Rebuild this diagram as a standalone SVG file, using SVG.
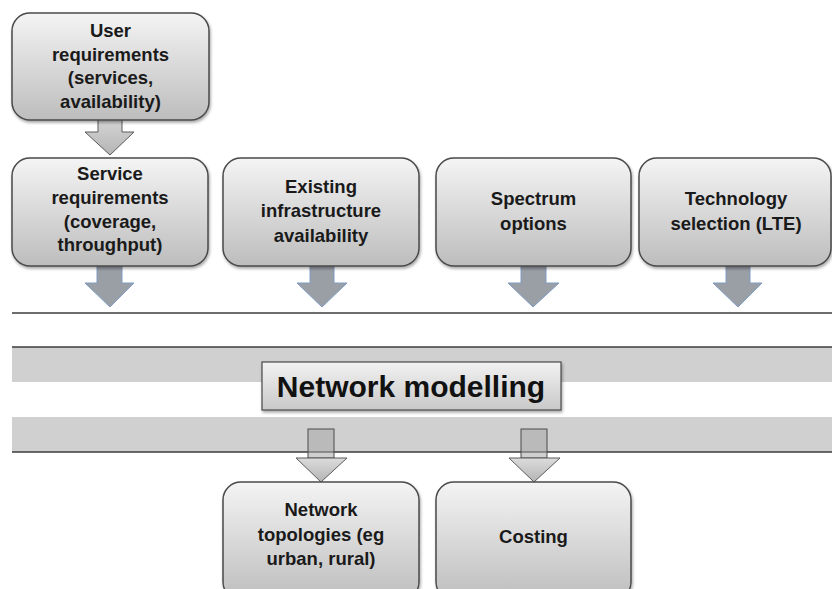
<svg xmlns="http://www.w3.org/2000/svg" width="832" height="589" viewBox="0 0 832 589">
<defs>
  <linearGradient id="boxGrad" x1="0" y1="0" x2="0" y2="1">
    <stop offset="0" stop-color="#f4f4f4"/>
    <stop offset="1" stop-color="#bdbdbd"/>
  </linearGradient>
  <linearGradient id="nmGrad" x1="0" y1="0" x2="0" y2="1">
    <stop offset="0" stop-color="#f2f2f2"/>
    <stop offset="1" stop-color="#c9c9c9"/>
  </linearGradient>
  <linearGradient id="lightArrow" x1="0" y1="0" x2="0" y2="1">
    <stop offset="0" stop-color="#dcdcdc"/>
    <stop offset="1" stop-color="#b4b4b4"/>
  </linearGradient>
  <filter id="shadow" x="-10%" y="-10%" width="120%" height="125%">
    <feGaussianBlur in="SourceAlpha" stdDeviation="1.5"/>
    <feOffset dx="1" dy="2" result="b"/>
    <feComponentTransfer><feFuncA type="linear" slope="0.35"/></feComponentTransfer>
    <feMerge><feMergeNode/><feMergeNode in="SourceGraphic"/></feMerge>
  </filter>
</defs>
<style>
  .box { fill: url(#boxGrad); stroke: #4a4a4a; stroke-width: 1.5; filter: url(#shadow); }
  .t { font-family: "Liberation Sans", Arial, sans-serif; font-weight: bold; font-size: 18.5px; fill: #1a1a1a; text-anchor: middle; }
  .nm { font-family: "Liberation Sans", Arial, sans-serif; font-weight: bold; font-size: 30px; fill: #111; text-anchor: middle; }
  .band { fill: #d0d0d0; }
  .rule { stroke: #3c3c3c; stroke-width: 1.5; fill: none; }
  .arrBlue { fill: #9a9ea5; stroke: #7f9cc4; stroke-width: 1; }
  .arrLight { fill: url(#lightArrow); stroke: #5a5a5a; stroke-width: 1; }
  .shaftT { fill: #a8a8a8; fill-opacity: 0.55; stroke: #4a4a4a; stroke-width: 1; }
</style>

<!-- background bands and rules -->
<g id="bands">
  <rect class="band" x="12" y="347" width="820" height="35"/>
  <rect class="band" x="12" y="417" width="820" height="35"/>
  <line class="rule" x1="12" y1="313" x2="832" y2="313"/>
  <line class="rule" x1="12" y1="347" x2="832" y2="347"/>
  <line class="rule" x1="12" y1="452" x2="832" y2="452"/>
</g>

<!-- connectors -->
<g id="connectors">
  <!-- user -> service -->
  <path class="arrLight" d="M98,112 H122 V132 H134 L110,155 L85,132 H98 Z"/>
  <!-- row 2 -> modelling -->
  <path class="arrBlue" d="M97,266 H122 V283 H134 L110,307 L85,283 H97 Z"/>
  <path class="arrBlue" d="M310,266 H334 V283 H347 L322,307 L297,283 H310 Z"/>
  <path class="arrBlue" d="M521,266 H546 V283 H559 L533,307 L508,283 H521 Z"/>
  <path class="arrBlue" d="M726,266 H750 V283 H762 L738,307 L713,283 H726 Z"/>
  <!-- modelling -> bottom -->
  <rect class="shaftT" x="308" y="429" width="26" height="29"/>
  <path class="arrLight" d="M296,458 H347 L321,482 Z"/>
  <rect class="shaftT" x="521" y="429" width="26" height="29"/>
  <path class="arrLight" d="M509,458 H560 L534,482 Z"/>
</g>

<g id="user-req">
  <rect class="box" x="12" y="13" width="197" height="107" rx="18"/>
  <text class="t" x="110.5" y="37">User</text>
  <text class="t" x="110.5" y="61">requirements</text>
  <text class="t" x="110.5" y="84">(services,</text>
  <text class="t" x="110.5" y="108">availability)</text>
</g>

<g id="service-req">
  <rect class="box" x="12" y="158" width="196" height="108" rx="18"/>
  <text class="t" x="110" y="180">Service</text>
  <text class="t" x="110" y="204">requirements</text>
  <text class="t" x="110" y="228">(coverage,</text>
  <text class="t" x="110" y="251">throughput)</text>
</g>

<g id="existing-infra">
  <rect class="box" x="223" y="158" width="196" height="108" rx="18"/>
  <text class="t" x="321" y="193">Existing</text>
  <text class="t" x="321" y="217">infrastructure</text>
  <text class="t" x="321" y="242">availability</text>
</g>

<g id="spectrum">
  <rect class="box" x="436" y="158" width="195" height="108" rx="18"/>
  <text class="t" x="533.5" y="205">Spectrum</text>
  <text class="t" x="533.5" y="230">options</text>
</g>

<g id="technology">
  <rect class="box" x="639" y="158" width="192" height="108" rx="18"/>
  <text class="t" x="736" y="205">Technology</text>
  <text class="t" x="736" y="230">selection (LTE)</text>
</g>

<g id="network-modelling">
  <rect x="262" y="362" width="299" height="48" fill="url(#nmGrad)" stroke="#4a4a4a" stroke-width="1.2" filter="url(#shadow)"/>
  <text class="nm" x="411" y="397">Network modelling</text>
</g>

<g id="network-topologies">
  <rect class="box" x="223" y="482" width="196" height="118" rx="18"/>
  <text class="t" x="321" y="516">Network</text>
  <text class="t" x="321" y="541">topologies (eg</text>
  <text class="t" x="321" y="565">urban, rural)</text>
</g>

<g id="costing">
  <rect class="box" x="436" y="482" width="195" height="118" rx="18"/>
  <text class="t" x="533.5" y="543">Costing</text>
</g>
</svg>
